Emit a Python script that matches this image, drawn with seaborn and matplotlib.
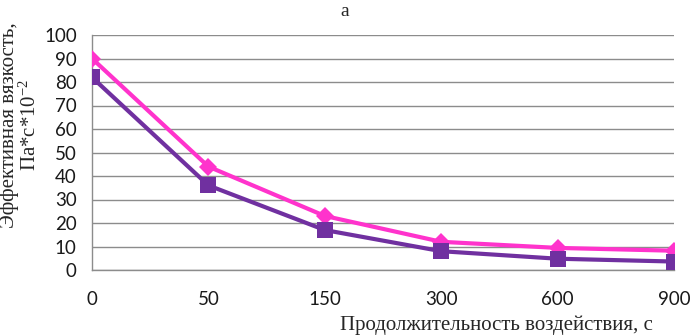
import pandas as pd
import matplotlib
matplotlib.use("Agg")
import matplotlib.pyplot as plt
import seaborn as sns

# Data
durations = ["0", "50", "150", "300", "600", "900"]
viscosity_pink = [90, 44, 23, 12, 9.4, 8.2]
viscosity_purple = [82, 36, 17, 8, 4.8, 3.6]

df = pd.DataFrame({
    "t": durations * 2,
    "v": viscosity_pink + viscosity_purple,
    "series": ["pink"] * len(durations) + ["purple"] * len(durations),
})

sns.set_style("white")
plt.rcParams["font.family"] = ["Lato", "DejaVu Sans"]
plt.rcParams["mathtext.fontset"] = "custom"
plt.rcParams["mathtext.rm"] = "Liberation Serif"
plt.rcParams["mathtext.it"] = "Liberation Serif"
serif = ["Liberation Serif", "DejaVu Serif"]

fig = plt.figure(figsize=(6.9, 3.35), dpi=100)
ax = fig.add_axes([92 / 690, 1 - 270 / 335, (674 - 92) / 690, (270 - 35) / 335])

sns.lineplot(
    data=df, x="t", y="v", hue="series", style="series",
    palette={"pink": "#FF33CC", "purple": "#7030A0"},
    markers={"pink": "D", "purple": "s"}, dashes=False,
    linewidth=3, markersize=10, markeredgewidth=0, ax=ax, legend=False,
    sort=False,
)
# marker sizes differ slightly between series
for line in ax.lines:
    if line.get_marker() == "D":
        line.set_markersize(9)
        line.set_zorder(3)
    else:
        line.set_markersize(12)
        line.set_zorder(4)

ax.set_xlim(0, len(durations) - 1)
ax.set_ylim(0, 100)
ax.set_yticks(range(0, 101, 10))
ax.yaxis.grid(True, color="#8c8c8c", linewidth=1)
ax.set_axisbelow(True)
for s in ["top", "right"]:
    ax.spines[s].set_visible(False)
for s in ["left", "bottom"]:
    ax.spines[s].set_color("#8c8c8c")
    ax.spines[s].set_linewidth(1)
ax.spines["left"].set_zorder(0.5)
ax.tick_params(axis="both", which="both", length=5, width=1, color="#8c8c8c",
               labelsize=13.5, labelcolor="#1a1a1a", direction="out")
ax.tick_params(axis="y", pad=6)
ax.tick_params(axis="x", pad=10)
ax.set_xlabel("")
ax.set_ylabel("")
for lbl in ax.get_xticklabels() + ax.get_yticklabels():
    lbl.set_clip_on(False)

fig.text(345 / 690, 1 - 12 / 335, "а", family=serif, fontsize=14,
         ha="center", va="center")
fig.text(653 / 690, 1 - 325 / 335, "Продолжительность воздействия, с",
         family=serif, fontsize=15, ha="right", va="center")
fig.text(20 / 690, 1 - 125 / 335,
         "Эффективная вязкость,\nПа*с*10$^{\\mathrm{-2}}$",
         family=serif, fontsize=15, rotation=90, ha="center", va="center",
         multialignment="center", linespacing=1.0)

fig.savefig("out.png", dpi=100)
